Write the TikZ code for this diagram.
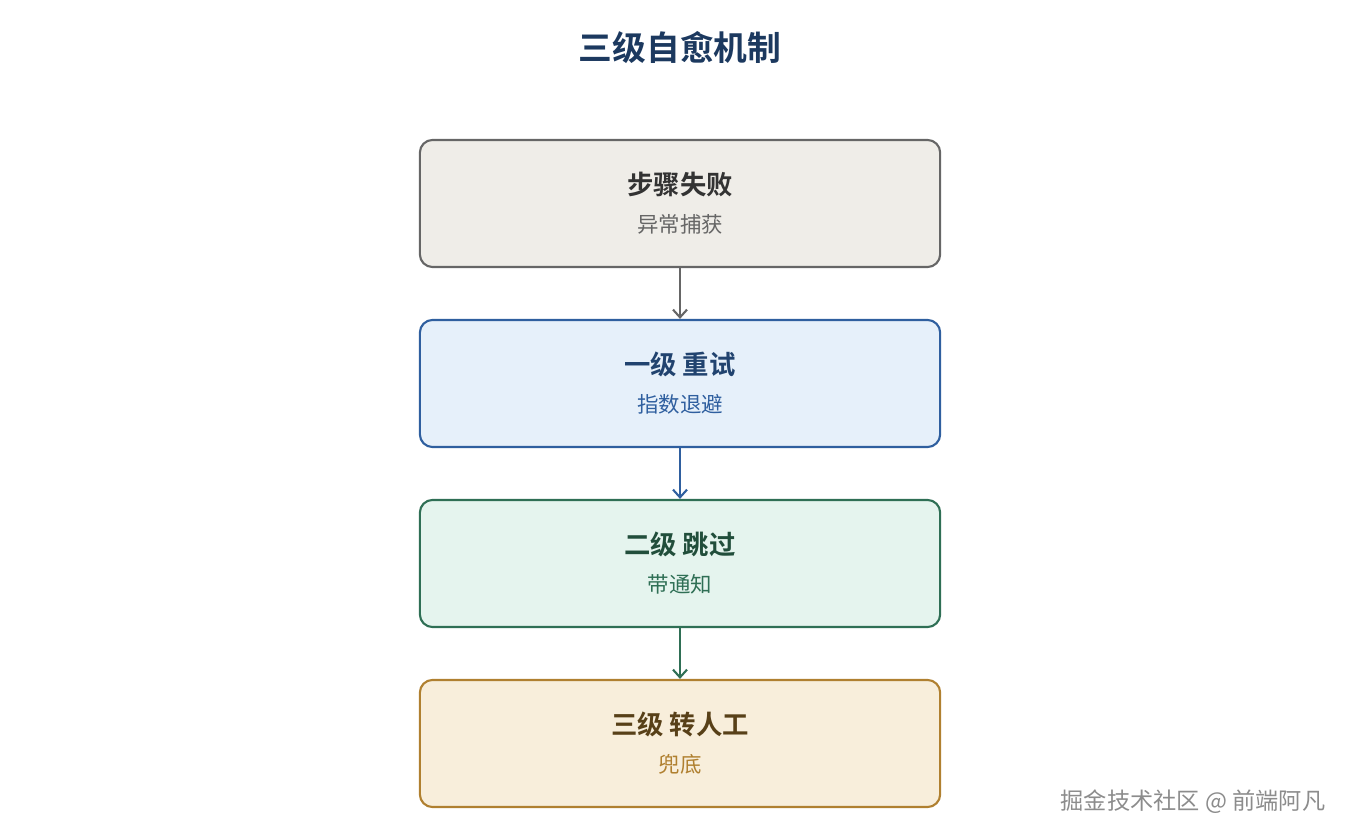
\documentclass[tikz,border=0pt]{standalone}
\usepackage{fontspec}
\setmainfont{Noto Sans CJK SC}[BoldFont={Noto Sans CJK SC Bold}]
\usetikzlibrary{arrows.meta, positioning}
\definecolor{grayline}{HTML}{666666}
\definecolor{grayfill}{HTML}{EFEDE8}
\definecolor{blueline}{HTML}{2F5F9F}
\definecolor{bluefill}{HTML}{E6F0FA}
\definecolor{greenline}{HTML}{2F6F55}
\definecolor{greenfill}{HTML}{E5F4EE}
\definecolor{goldline}{HTML}{B08030}
\definecolor{goldfill}{HTML}{F8EEDB}
\tikzset{
  stage/.style={draw, line width=0.6pt, rounded corners=3.6pt, minimum width=5.2cm, minimum height=1.27cm},
  head/.style={font=\bfseries\fontsize{7.5}{8}\selectfont},
  sub/.style={font=\fontsize{6.1}{7}\selectfont},
  flow/.style={-{Straight Barb[length=2.2pt, width=4pt]}, line width=0.6pt}
}
\begin{document}
\begin{tikzpicture}[x=0.01cm, y=-0.01cm]
  \useasboundingbox (0,0) rectangle (1360,840);

  % title
  \node[font=\bfseries\fontsize{9.6}{10}\selectfont, text=blueline!60!black] (title) at (680,48) {三级自愈机制};

  % the four stages
  \node[stage, draw=grayline, fill=grayfill] (fail) at (680,203.5) {};
  \node[head, text=black!80] at (680,184) {步骤失败};
  \node[sub, text=grayline] at (680,224) {异常捕获};

  \node[stage, draw=blueline, fill=bluefill] (retry) at (680,383.5) {};
  \node[head, text=blueline!70!black] at (680,364) {一级 重试};
  \node[sub, text=blueline] at (680,404) {指数退避};

  \node[stage, draw=greenline, fill=greenfill] (skip) at (680,563.5) {};
  \node[head, text=greenline!70!black] at (680,544) {二级 跳过};
  \node[sub, text=greenline] at (680,584) {带通知};

  \node[stage, draw=goldline, fill=goldfill] (human) at (680,743.5) {};
  \node[head, text=goldline!50!black] at (680,724) {三级 转人工};
  \node[sub, text=goldline] at (680,764) {兜底};

  % arrows between stages
  \draw[flow, grayline] (fail) -- (retry);
  \draw[flow, blueline] (retry) -- (skip);
  \draw[flow, greenline] (skip) -- (human);

  % watermark
  \node[font=\fontsize{6.6}{7}\selectfont, text=black!45] (mark) at (1193,802) {掘金技术社区 @ 前端阿凡};
\end{tikzpicture}
\end{document}
